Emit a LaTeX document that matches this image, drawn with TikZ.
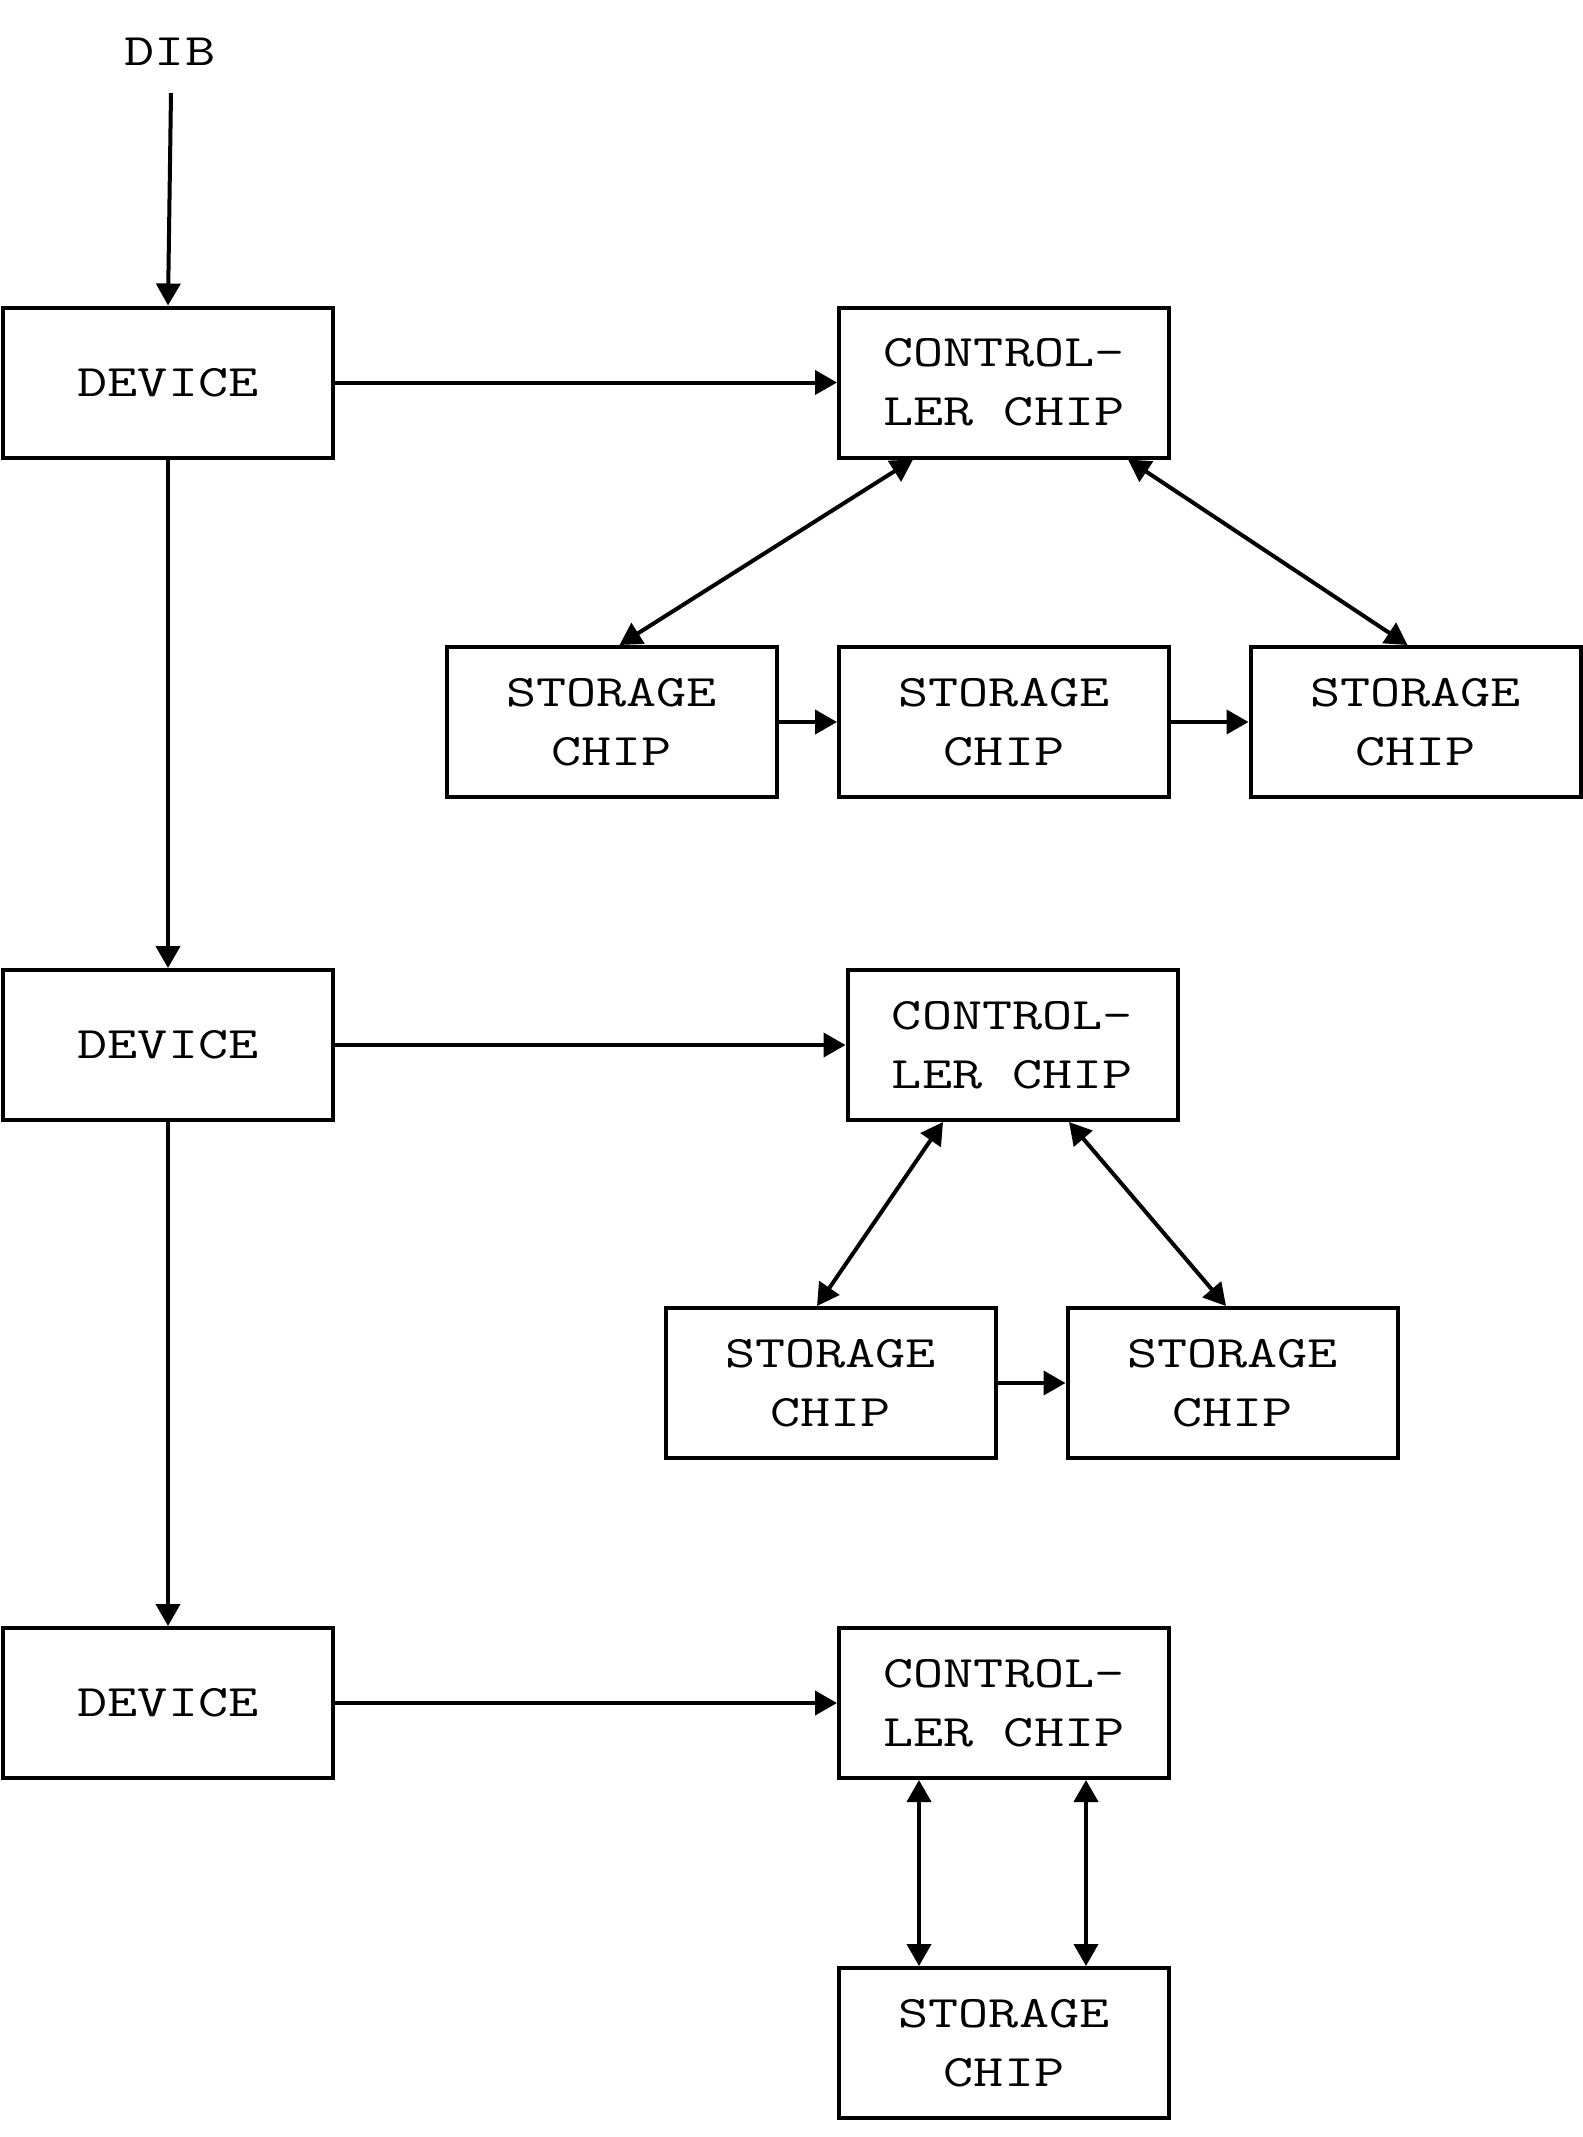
\documentclass[tikz,border=0pt]{standalone}
\usepackage{fontspec}
\newfontfamily\chipfont{Latin Modern Mono}[FakeStretch=1.3]
\usetikzlibrary{arrows.meta,calc}
\begin{document}
\begin{tikzpicture}[x=0.5pt,y=-0.5pt,
  line width=2pt,
  box/.style={draw,minimum width=165pt,minimum height=75pt,inner sep=0pt,
    align=center,font=\chipfont\fontsize{22.5}{29.5}\selectfont},
  lbl/.style={inner sep=0pt,font=\chipfont\fontsize{22.5}{29.5}\selectfont},
  arr/.style={-{Triangle[length=11pt,width=12pt]}},
  biarr/.style={{Triangle[length=11pt,width=12pt]}-{Triangle[length=11pt,width=12pt]}}]
\useasboundingbox (0,0) rectangle (1583,2137);

% input label
\node[lbl,anchor=base] (dib) at (170,65) {DIB};
\coordinate (dibend) at (171,93);

% devices
\node[box] (dev1) at (168,382.5) {DEVICE};
\node[box] (dev2) at (168,1045) {DEVICE};
\node[box] (dev3) at (168,1703) {DEVICE};

% controller chips
\node[box] (ctl1) at (1004,382.5) {CONTROL-\\LER CHIP};
\node[box] (ctl2) at (1012.5,1045) {CONTROL-\\LER CHIP};
\node[box] (ctl3) at (1004,1703) {CONTROL-\\LER CHIP};

% storage chips
\node[box] (s11) at (611.5,722) {STORAGE\\CHIP};
\node[box] (s12) at (1004,722) {STORAGE\\CHIP};
\node[box] (s13) at (1415.5,722) {STORAGE\\CHIP};
\node[box] (s21) at (830.5,1383) {STORAGE\\CHIP};
\node[box] (s22) at (1232.5,1383) {STORAGE\\CHIP};
\node[box] (s3) at (1004,2043) {STORAGE\\CHIP};

% device chain
\draw[arr] (dibend) -- (dev1.north);
\draw[arr] (dev1) -- (dev2);
\draw[arr] (dev2) -- (dev3);

% device to controller
\draw[arr] (dev1) -- (ctl1);
\draw[arr] (dev2) -- (ctl2);
\draw[arr] (dev3) -- (ctl3);

% first group
\draw[biarr] ($(ctl1.south)+(-91,0)$) -- ($(s11.north)+(8,0)$);
\draw[biarr] ($(ctl1.south)+(124,0)$) -- ($(s13.north)+(-8,0)$);
\draw[arr] (s11) -- (s12);
\draw[arr] (s12) -- (s13);

% second group
\draw[biarr] ($(ctl2.south)+(-69.5,0)$) -- ($(s21.north)+(-13.5,0)$);
\draw[biarr] ($(ctl2.south)+(56.5,0)$) -- ($(s22.north)+(-6.5,0)$);
\draw[arr] (s21) -- (s22);

% third group
\draw[biarr] ($(ctl3.south)+(-85,0)$) -- ($(s3.north)+(-85,0)$);
\draw[biarr] ($(ctl3.south)+(82,0)$) -- ($(s3.north)+(82,0)$);
\end{tikzpicture}
\end{document}
